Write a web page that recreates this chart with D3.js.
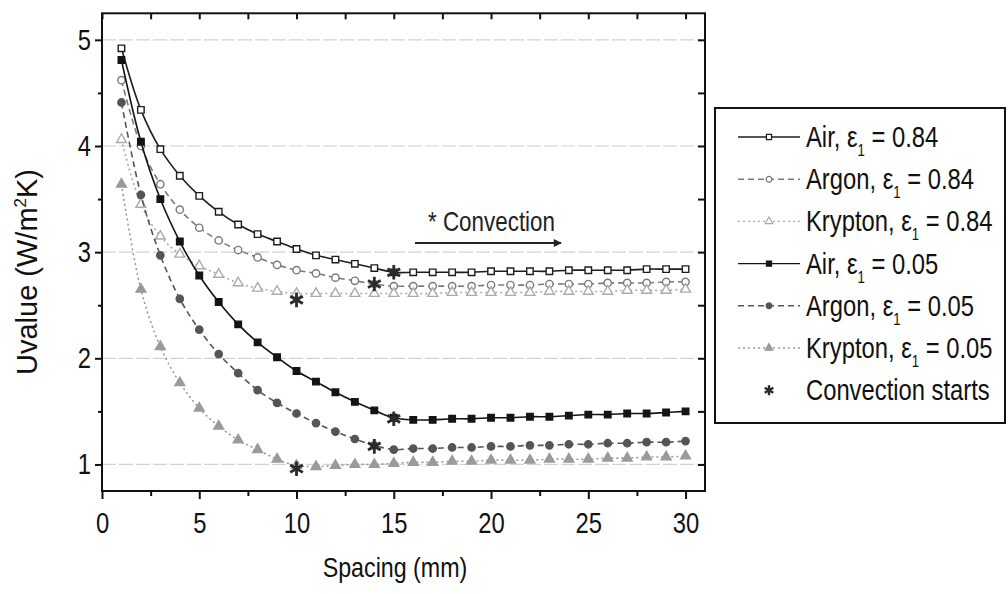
<!DOCTYPE html>
<html>
<head>
<meta charset="utf-8">
<script src="https://cdn.jsdelivr.net/npm/d3@7"></script>
<style>
  body { margin: 0; background: #fff; }
  #chart { width: 1008px; height: 594px; display: block; }
  .narrow { font-family: "Liberation Sans Narrow", "Arial Narrow", "Liberation Sans", Arial, sans-serif; }
</style>
</head>
<body>
<svg id="chart"></svg>
<script>
// spacing values (mm)
var spacing = d3.range(1, 31);

// U values, one array per series
var airHigh = [4.92, 4.34, 3.97, 3.72, 3.53, 3.38, 3.26, 3.17, 3.10, 3.03, 2.97, 2.93, 2.89, 2.85, 2.81,
               2.81, 2.81, 2.81, 2.81, 2.82, 2.82, 2.82, 2.82, 2.83, 2.83, 2.83, 2.83, 2.84, 2.84, 2.84];
var argonHigh = [4.62, 4.00, 3.64, 3.40, 3.23, 3.11, 3.02, 2.95, 2.88, 2.83, 2.80, 2.76, 2.73, 2.70, 2.68,
                 2.68, 2.68, 2.68, 2.68, 2.69, 2.69, 2.69, 2.70, 2.70, 2.70, 2.71, 2.71, 2.71, 2.72, 2.72];
var kryptonHigh = [4.06, 3.45, 3.15, 2.98, 2.87, 2.79, 2.71, 2.66, 2.63, 2.61, 2.61, 2.61, 2.61, 2.61, 2.61,
                   2.61, 2.61, 2.62, 2.62, 2.62, 2.62, 2.62, 2.63, 2.63, 2.63, 2.63, 2.64, 2.64, 2.64, 2.65];
var airLow = [4.81, 4.04, 3.50, 3.10, 2.78, 2.53, 2.32, 2.15, 2.01, 1.88, 1.78, 1.68, 1.59, 1.51, 1.44,
              1.42, 1.42, 1.43, 1.43, 1.44, 1.44, 1.45, 1.45, 1.46, 1.47, 1.47, 1.48, 1.48, 1.49, 1.50];
var argonLow = [4.41, 3.54, 2.97, 2.56, 2.27, 2.04, 1.86, 1.70, 1.58, 1.48, 1.39, 1.31, 1.24, 1.18, 1.14,
                1.15, 1.15, 1.16, 1.16, 1.17, 1.17, 1.18, 1.18, 1.19, 1.19, 1.20, 1.20, 1.21, 1.21, 1.22];
var kryptonLow = [3.64, 2.65, 2.11, 1.77, 1.53, 1.36, 1.23, 1.14, 1.05, 0.99, 0.98, 0.99, 1.00, 1.00, 1.01,
                  1.02, 1.02, 1.03, 1.03, 1.04, 1.04, 1.04, 1.05, 1.05, 1.05, 1.06, 1.06, 1.07, 1.07, 1.08];

// convection start points
var convX = [15, 14, 10, 15, 14, 10];
var convY = [2.81, 2.70, 2.55, 1.43, 1.17, 0.96];

// legend labels: gas and emissivity
var gasNames = ['Air', 'Argon', 'Krypton', 'Air', 'Argon', 'Krypton'];
var emissivity = ['0.84', '0.84', '0.84', '0.05', '0.05', '0.05'];

var xTicks = [0, 5, 10, 15, 20, 25, 30];
var yTicks = [1, 2, 3, 4, 5];

var svg, x, y;

document.addEventListener('DOMContentLoaded', function () {
    svg = d3.select('#chart');

    x = d3.scaleLinear().domain([0, 31]).range([102, 705]);
    y = d3.scaleLinear().domain([0.75, 5.25]).range([491, 13.3]);

    var series = [
        { values: airHigh,     color: '#1e1e1e', dash: null,  shape: 'square',   filled: false },
        { values: argonHigh,   color: '#7a7a7a', dash: '6,4', shape: 'circle',   filled: false },
        { values: kryptonHigh, color: '#ababab', dash: '2,3', shape: 'triangle', filled: false },
        { values: airLow,      color: '#141414', dash: null,  shape: 'square',   filled: true },
        { values: argonLow,    color: '#555555', dash: '6,4', shape: 'circle',   filled: true },
        { values: kryptonLow,  color: '#9a9a9a', dash: '2,3', shape: 'triangle', filled: true }
    ];

    drawChart(series);
});

function symbolFor(shape, size) {
    var type = shape == 'square' ? d3.symbolSquare : shape == 'circle' ? d3.symbolCircle : d3.symbolTriangle;
    return d3.symbol().type(type).size(size)();
}

// the original uses a narrow face; squeeze the regular one when no narrow font is there
function condense(sel, k) {
    sel.each(function () {
        var w = this.getComputedTextLength();
        d3.select(this).attr('textLength', w * k).attr('lengthAdjust', 'spacingAndGlyphs');
    });
}

function drawChart(series) {
    svg.selectAll('*').remove();

    // grid lines
    svg.append('g').selectAll('line')
        .data(yTicks)
        .enter()
        .append('line')
        .attr('x1', x(0)).attr('x2', x(31))
        .attr('y1', d => y(d)).attr('y2', d => y(d))
        .style('stroke', '#d2d2d2')
        .style('stroke-width', 1.2)
        .style('stroke-dasharray', '14,3');

    // axes
    var minorX = d3.range(2.5, 31, 5);
    var minorY = d3.range(1.5, 5.1, 1);

    var bottom = svg.append('g').attr('transform', 'translate(0,491)')
        .call(d3.axisBottom(x).tickValues(xTicks).tickSize(8).tickPadding(13).tickFormat(d3.format('d')));
    svg.append('g').attr('transform', 'translate(0,491)')
        .call(d3.axisBottom(x).tickValues(minorX).tickSize(5).tickFormat(''));
    var left = svg.append('g').attr('transform', 'translate(102,0)')
        .call(d3.axisLeft(y).tickValues(yTicks).tickSize(7).tickPadding(4).tickFormat(d3.format('d')));
    svg.append('g').attr('transform', 'translate(102,0)')
        .call(d3.axisLeft(y).tickValues(minorY).tickSize(4).tickFormat(''));
    svg.append('g').attr('transform', 'translate(0,13.3)')
        .call(d3.axisTop(x).tickValues(xTicks.concat(minorX)).tickSize(-6).tickFormat(''));
    svg.append('g').attr('transform', 'translate(705,0)')
        .call(d3.axisRight(y).tickValues(yTicks.concat(minorY)).tickSize(-7).tickFormat(''));

    svg.selectAll('.domain').remove();
    svg.selectAll('.tick line').style('stroke', '#111').style('stroke-width', 2);

    bottom.selectAll('text').attr('class', 'narrow').style('font-size', '29px').style('fill', '#111');
    left.selectAll('text').attr('class', 'narrow').style('font-size', '29px').style('fill', '#111');
    condense(bottom.selectAll('text'), 0.82);
    condense(left.selectAll('text'), 0.82);

    // frame
    svg.append('rect')
        .attr('x', 102).attr('y', 13.3)
        .attr('width', 603).attr('height', 491 - 13.3)
        .style('fill', 'none')
        .style('stroke', '#111')
        .style('stroke-width', 2);

    // lines
    var line = d3.line()
        .x((d, i) => x(spacing[i]))
        .y(d => y(d))
        .curve(d3.curveCatmullRom);

    series.forEach(function (s) {
        svg.append('path')
            .attr('d', line(s.values))
            .style('fill', 'none')
            .style('stroke', s.color)
            .style('stroke-width', 1.6)
            .style('stroke-dasharray', s.dash);

        svg.append('g').selectAll('path')
            .data(s.values)
            .enter()
            .append('path')
            .attr('transform', (d, i) => `translate(${x(spacing[i])},${y(d)})`)
            .attr('d', symbolFor(s.shape, s.shape == 'triangle' ? 42 : 42))
            .style('fill', s.filled ? s.color : '#fff')
            .style('stroke', s.color)
            .style('stroke-width', 1.4);
    });

    // convection stars
    var star = d3.symbol().type(d3.symbolAsterisk).size(150);
    svg.append('g').selectAll('path')
        .data(convX)
        .enter()
        .append('path')
        .attr('transform', (d, i) => `translate(${x(d)},${y(convY[i])})`)
        .attr('d', star)
        .style('fill', 'none')
        .style('stroke', '#2a2a2a')
        .style('stroke-width', 2.8);

    // annotation
    svg.append('defs').append('marker')
        .attr('id', 'arrow')
        .attr('viewBox', '0 0 10 10')
        .attr('refX', 9).attr('refY', 5)
        .attr('markerWidth', 5).attr('markerHeight', 4)
        .attr('markerUnits', 'strokeWidth')
        .attr('orient', 'auto')
        .append('path')
        .attr('d', 'M0,0L10,5L0,10Z')
        .style('fill', '#222');

    var conv = svg.append('text')
        .attr('class', 'narrow')
        .attr('x', 428).attr('y', 231)
        .style('font-size', '28px')
        .style('fill', '#222')
        .text('* Convection');
    condense(conv, 0.8);

    svg.append('line')
        .attr('x1', 415).attr('y1', 243)
        .attr('x2', 561).attr('y2', 243)
        .style('stroke', '#222')
        .style('stroke-width', 2)
        .attr('marker-end', 'url(#arrow)');

    // axis titles
    var xt = svg.append('text')
        .attr('class', 'narrow')
        .attr('x', 395).attr('y', 577)
        .style('text-anchor', 'middle')
        .style('font-size', '28px')
        .style('fill', '#111')
        .text('Spacing (mm)');
    condense(xt, 0.83);

    var yt = svg.append('text')
        .attr('transform', 'translate(37,272) rotate(-90)')
        .style('text-anchor', 'middle')
        .style('font-family', '"Liberation Sans", Arial, sans-serif')
        .style('font-size', '29px')
        .style('fill', '#111');
    yt.append('tspan').text('Uvalue (W/m');
    yt.append('tspan').attr('dy', -11).style('font-size', '17px').text('2');
    yt.append('tspan').attr('dy', 11).text('K)');

    // legend
    var lg = svg.append('g');
    lg.append('rect')
        .attr('x', 715).attr('y', 108)
        .attr('width', 290).attr('height', 315)
        .style('fill', '#fff')
        .style('stroke', '#111')
        .style('stroke-width', 2);

    series.forEach(function (s, i) {
        var ry = 137 + i * 42.2;
        lg.append('line')
            .attr('x1', 738).attr('x2', 800)
            .attr('y1', ry).attr('y2', ry)
            .style('stroke', s.color)
            .style('stroke-width', 1.4)
            .style('stroke-dasharray', s.dash);
        lg.append('path')
            .attr('transform', `translate(769,${ry})`)
            .attr('d', symbolFor(s.shape, 26))
            .style('fill', s.filled ? s.color : '#fff')
            .style('stroke', s.color)
            .style('stroke-width', 1.2);
        var t = lg.append('text')
            .attr('class', 'narrow')
            .attr('x', 806).attr('y', ry + 10)
            .style('font-size', '29px')
            .style('fill', '#111');
        t.append('tspan').text(gasNames[i] + ', ε');
        t.append('tspan').attr('dy', 9).style('font-size', '16px').text('1');
        t.append('tspan').attr('dy', -9).text(' = ' + emissivity[i]);
        condense(t, 0.82);
    });

    var sy = 137 + 6 * 42.2;
    lg.append('path')
        .attr('transform', `translate(769,${sy})`)
        .attr('d', d3.symbol().type(d3.symbolAsterisk).size(70)())
        .style('fill', 'none')
        .style('stroke', '#2a2a2a')
        .style('stroke-width', 2.4);
    var cs = lg.append('text')
        .attr('class', 'narrow')
        .attr('x', 806).attr('y', sy + 10)
        .style('font-size', '29px')
        .style('fill', '#111')
        .text('Convection starts');
    condense(cs, 0.82);
}
</script>
</body>
</html>
